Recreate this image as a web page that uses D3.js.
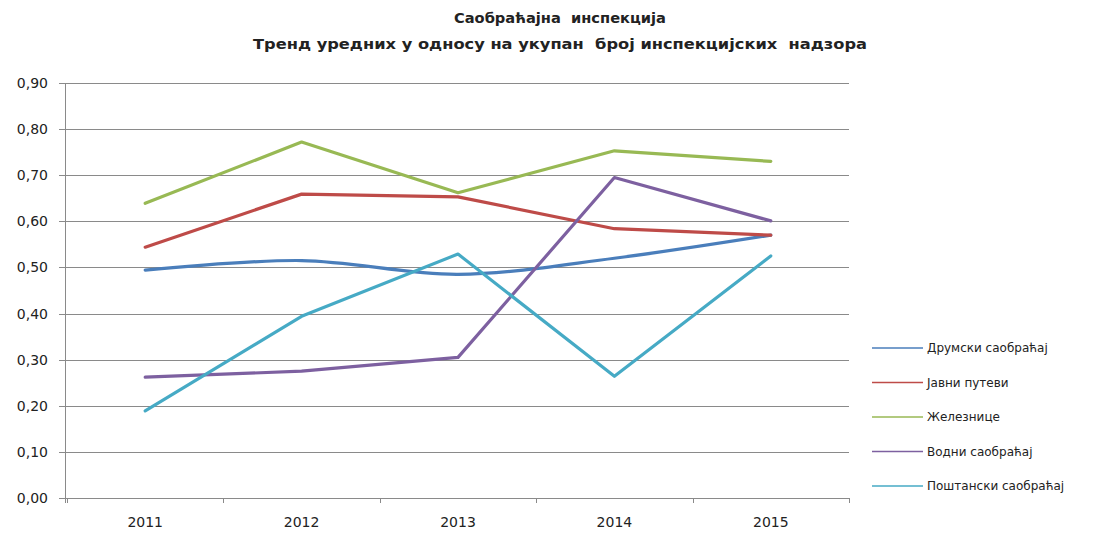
<!DOCTYPE html>
<html>
<head>
<meta charset="utf-8">
<script src="https://cdn.jsdelivr.net/npm/d3@7"></script>
<style>
  body { margin: 0; background: #fff; }
  text { font-family: "DejaVu Sans", "Open Sans", sans-serif; fill: #222; }
</style>
</head>
<body>
<div id="chart"></div>
<script>
const years = ['2011', '2012', '2013', '2014', '2015'];
const seriesNames = ['Друмски саобраћај', 'Јавни путеви', 'Железнице', 'Водни саобраћај', 'Поштански саобраћај'];
const drumski = [0.494, 0.515, 0.485, 0.520, 0.570];
const javniPutevi = [0.544, 0.659, 0.653, 0.584, 0.570];
const zeleznice = [0.639, 0.772, 0.662, 0.753, 0.730];
const vodni = [0.262, 0.275, 0.305, 0.695, 0.601];
const postanski = [0.189, 0.394, 0.529, 0.264, 0.525];
const yTicks = [0, 0.1, 0.2, 0.3, 0.4, 0.5, 0.6, 0.7, 0.8, 0.9];
const titleLines = ['Саобраћајна  инспекција', 'Тренд уредних у односу на укупан  број инспекцијских  надзора'];

const colors = ['#4A7EBB', '#BE4B48', '#98B954', '#7D60A0', '#46AAC5'];
const series = [drumski, javniPutevi, zeleznice, vodni, postanski];

const width = 1101, height = 536;
const margin = { left: 65, right: 252, top: 83, bottom: 38 };

const svg = d3.select('#chart').append('svg')
  .attr('width', width)
  .attr('height', height);

const x = d3.scaleBand()
  .domain(years)
  .range([margin.left + 2, width - margin.right]);

const y = d3.scaleLinear()
  .domain([0, 0.9])
  .range([height - margin.bottom, margin.top]);

// title, stretched to the widths seen in the picture
const titleWidths = [212, 614];
svg.selectAll('.title')
  .data(titleLines)
  .enter()
  .append('text')
  .attr('class', 'title')
  .attr('x', 560)
  .attr('y', (d, i) => 23 + i * 26)
  .attr('text-anchor', 'middle')
  .attr('textLength', (d, i) => titleWidths[i])
  .attr('lengthAdjust', 'spacingAndGlyphs')
  .style('font-size', '14px')
  .style('font-weight', 'bold')
  .style('white-space', 'pre')
  .text(d => d);

// gridlines
svg.append('g')
  .selectAll('line')
  .data(yTicks)
  .enter()
  .append('line')
  .attr('x1', margin.left - 6)
  .attr('x2', width - margin.right)
  .attr('y1', d => Math.round(y(d)) + 0.5)
  .attr('y2', d => Math.round(y(d)) + 0.5)
  .attr('stroke', '#8a8a8a')
  .attr('stroke-width', 1);

// y axis line
svg.append('line')
  .attr('x1', margin.left + 0.5)
  .attr('x2', margin.left + 0.5)
  .attr('y1', y(0.9))
  .attr('y2', y(0) + 5)
  .attr('stroke', '#8a8a8a');

// y labels
svg.append('g')
  .selectAll('text')
  .data(yTicks)
  .enter()
  .append('text')
  .attr('x', margin.left - 17)
  .attr('y', d => y(d) + 5)
  .attr('text-anchor', 'end')
  .style('font-size', '14px')
  .text(d => d3.format('.2f')(d).replace('.', ','));

// x ticks
const xEdges = years.map(d => x(d)).concat([x.range()[1]]);
svg.append('g')
  .selectAll('line')
  .data(xEdges)
  .enter()
  .append('line')
  .attr('x1', d => Math.round(d) + 0.5)
  .attr('x2', d => Math.round(d) + 0.5)
  .attr('y1', y(0))
  .attr('y2', y(0) + 5)
  .attr('stroke', '#8a8a8a');

svg.append('g')
  .selectAll('text')
  .data(years)
  .enter()
  .append('text')
  .attr('x', d => x(d) + x.bandwidth() / 2)
  .attr('y', height - 9)
  .attr('text-anchor', 'middle')
  .style('font-size', '14px')
  .text(d => d);

// lines
const line = d3.line()
  .x((d, i) => x(years[i]) + x.bandwidth() / 2)
  .y(d => y(d));

svg.append('g')
  .selectAll('path')
  .data(series)
  .enter()
  .append('path')
  .attr('d', (d, i) => (i === 0 ? line.curve(d3.curveCatmullRom) : line.curve(d3.curveLinear))(d))
  .attr('fill', 'none')
  .attr('stroke', (d, i) => colors[i])
  .attr('stroke-width', 3.2)
  .attr('stroke-linejoin', 'round')
  .attr('stroke-linecap', 'round');

// legend
const legend = svg.append('g')
  .selectAll('g')
  .data(seriesNames)
  .enter()
  .append('g')
  .attr('transform', (d, i) => `translate(872, ${348 + i * 34.5})`);

legend.append('line')
  .attr('x1', 0)
  .attr('x2', 51)
  .attr('stroke', (d, i) => colors[i])
  .attr('stroke-width', 1.5);

legend.append('text')
  .attr('x', 55)
  .attr('y', 4)
  .style('font-size', '12px')
  .text(d => d);
</script>
</body>
</html>
